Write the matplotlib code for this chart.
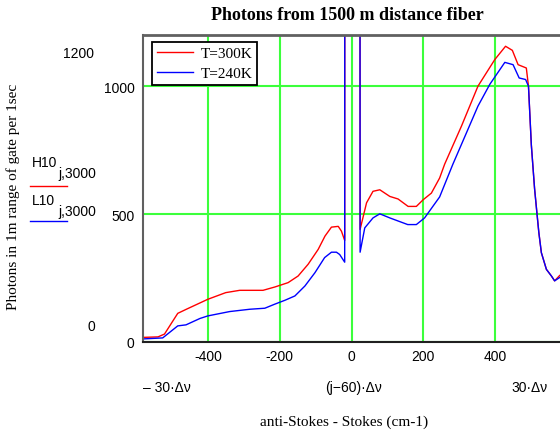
import matplotlib.pyplot as plt

# Данные кривых (anti-Stokes - Stokes, см^-1), считаны с графика
# точка 0 - рэлеевская линия, уходит далеко за шкалу
h10_x = [-582, -540, -522, -485, -461, -401, -351, -312, -247, -214, -177, -149,
         -121, -93, -74, -56, -37, -28, -19, 0, 24, 42, 60, 79, 107, 130, 158,
         181, 200, 223, 246, 260, 307, 353, 400, 430, 449, 465, 488, 494, 502,
         511, 518, 523, 530, 544, 558, 567, 581]
h10_y = [18, 20, 31, 112, 128, 167, 193, 202, 202, 215, 232, 258,
         304, 362, 414, 449, 452, 433, 397, 100000, 440, 544, 589, 595, 569, 559, 530,
         530, 556, 582, 641, 695, 844, 1000, 1104, 1156, 1140, 1084, 1071, 1000, 770,
         600, 498, 427, 349, 284, 258, 239, 260]

l10_x = [-582, -527, -485, -462, -423, -401, -340, -284, -242, -214, -186, -158,
         -130, -102, -75, -56, -42, -33, -19, 0, 24, 37, 60, 79, 107, 157, 181,
         204, 246, 283, 321, 353, 386, 428, 451, 468, 486, 494, 502, 511, 518,
         523, 530, 544, 558, 567, 581]
l10_y = [12, 16, 63, 67, 92, 102, 119, 128, 132, 148, 163, 180,
         219, 271, 330, 351, 351, 342, 312, 100000, 351, 446, 485, 501, 485, 459, 459,
         485, 567, 695, 818, 922, 1007, 1093, 1084, 1032, 1026, 1000, 770, 600, 498,
         427, 349, 284, 258, 239, 252]

x_ticks = [-400, -200, 0, 200, 400]
y_ticks = [0, 500, 1000]
legend_labels = ['T=300K', 'T=240K']

W, H = 560, 435
SANS = 'Liberation Sans'
SERIF = 'Liberation Serif'


def px_text(fig, x, y, s, **kw):
    # текст в пиксельных координатах картинки (y сверху вниз)
    fig.text(x / W, 1 - y / H, s, **kw)


def main():
    fig = plt.figure(figsize=(W / 100, H / 100), dpi=100)
    fig.patch.set_facecolor('white')

    # область графика: 143..560 по x, 36..343 по y
    ax = fig.add_axes([143 / W, (H - 343) / H, (W - 143) / W, 307 / H])

    ax.plot(h10_x, h10_y, color='#ff0000', lw=1.0, label=legend_labels[0])
    ax.plot(l10_x, l10_y, color='#0000ff', lw=1.0, label=legend_labels[1])

    ax.set_xlim(-582, 582)
    ax.set_ylim(0, 1200)
    ax.set_xticks(x_ticks)
    ax.set_xticklabels([str(t) for t in x_ticks], fontfamily=SANS, fontsize=10)
    ax.set_yticks(y_ticks)
    ax.set_yticklabels([str(t) for t in y_ticks], fontfamily=SANS, fontsize=10)
    ax.tick_params(length=0)
    ax.tick_params(axis='y', pad=6)
    ax.tick_params(axis='x', pad=5)

    ax.grid(True, color='#3cff3c', lw=1.5)
    ax.set_axisbelow(True)

    ax.spines['right'].set_visible(False)
    ax.spines['top'].set_color('#606060')
    ax.spines['top'].set_linewidth(2)
    ax.spines['left'].set_color('#606060')
    ax.spines['left'].set_linewidth(1.5)
    ax.spines['bottom'].set_color('#202020')
    ax.spines['bottom'].set_linewidth(1.5)

    leg = ax.legend(loc='upper left', bbox_to_anchor=(0.0216, 0.977),
                    borderaxespad=0, fancybox=False, framealpha=1,
                    handlelength=2.4, handletextpad=0.5, borderpad=0.3,
                    labelspacing=0.42, prop={'family': SERIF, 'size': 11})
    leg.get_frame().set_edgecolor('black')
    leg.get_frame().set_linewidth(1.3)

    # заголовок и подписи осей
    px_text(fig, 347, 16, 'Photons from 1500 m distance fiber', ha='center', va='center',
            fontfamily=SERIF, fontsize=13, fontweight='bold')
    px_text(fig, 344, 422, 'anti-Stokes - Stokes (cm-1)', ha='center', va='center',
            fontfamily=SERIF, fontsize=11)
    px_text(fig, 13, 197, 'Photons in 1m range of gate per 1sec', ha='center', va='center',
            rotation=90, fontfamily=SERIF, fontsize=11)

    # пределы осей в стиле Mathcad
    px_text(fig, 79, 54, '1200', ha='center', va='center', fontfamily=SANS, fontsize=10)
    px_text(fig, 91, 327, '0', ha='center', va='center', fontfamily=SANS, fontsize=10)
    px_text(fig, 143, 388, '\u2013 30\u00b7\u0394\u03bd', ha='left', va='center',
            fontfamily=SANS, fontsize=10)
    px_text(fig, 354, 388, '(j\u221260)\u00b7\u0394\u03bd', ha='center', va='center',
            fontfamily=SANS, fontsize=10)
    px_text(fig, 529, 388, '30\u00b7\u0394\u03bd', ha='center', va='center',
            fontfamily=SANS, fontsize=10)

    # подписи трасс слева
    px_text(fig, 32, 163, 'H10', ha='left', va='center', fontfamily=SANS, fontsize=10)
    px_text(fig, 58, 174, 'j,3000', ha='left', va='center', fontfamily=SANS, fontsize=10)
    px_text(fig, 32, 201, 'L10', ha='left', va='center', fontfamily=SANS, fontsize=10)
    px_text(fig, 58, 212, 'j,3000', ha='left', va='center', fontfamily=SANS, fontsize=10)
    fig.add_artist(plt.Line2D([30 / W, 67 / W], [1 - 187 / H, 1 - 187 / H],
                              color='#ff0000', lw=1.0))
    fig.add_artist(plt.Line2D([30 / W, 67 / W], [1 - 222 / H, 1 - 222 / H],
                              color='#0000ff', lw=1.0))

    fig.savefig('out.png', dpi=100)


if __name__ == "__main__":
    main()
